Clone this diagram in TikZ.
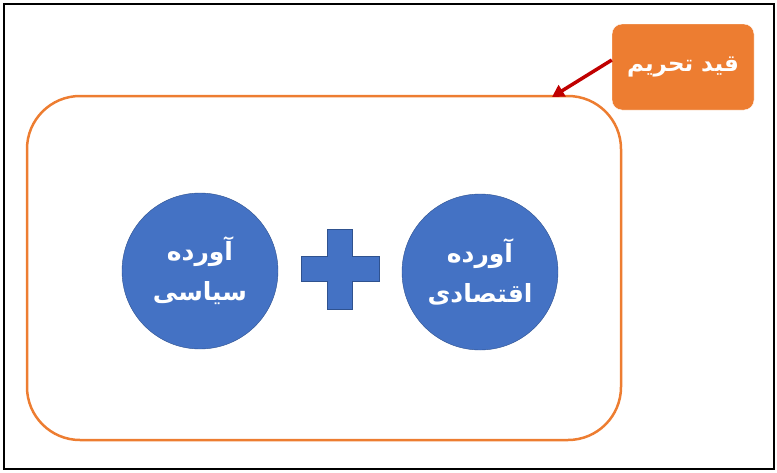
\documentclass[tikz,border=0pt]{standalone}
\usepackage{fontspec}
\newfontfamily\arabicfont[Script=Arabic]{DejaVu Sans}
\TeXXeTstate=1
\usetikzlibrary{arrows.meta}
\definecolor{offblue}{HTML}{4472C4}
\definecolor{offblueline}{HTML}{2F528F}
\definecolor{offorange}{HTML}{ED7D31}
\definecolor{darkred}{HTML}{C00000}
\begin{document}
\begin{tikzpicture}[x=1pt,y=-1pt,
  bubble/.style={circle,fill=offblue,draw=offblueline,thin,minimum size=156pt,inner sep=0pt,text=white,align=center,font=\arabicfont\bfseries\fontsize{25}{40}\selectfont},
  tag/.style={rectangle,rounded corners=10pt,fill=offorange,draw=white,minimum width=142pt,minimum height=86pt,text=white,font=\arabicfont\bfseries\fontsize{23}{26}\selectfont}]
\useasboundingbox (0,0) rectangle (777,472);

% frame
\draw [line width=2pt] (4,4) rectangle (774,469);
\draw [offorange,line width=2.5pt,rounded corners=53pt] (27,96) rectangle (621,440);

\node[bubble] (pol) at (200,271) {\beginR آورده\endR\\\beginR سیاسی\endR};
\node[bubble] (eco) at (480,272) {\beginR آورده\endR\\\beginR اقتصادی\endR};

%plus
\draw [offblueline,thin,fill=offblue] (327,229) -- (352,229) -- (352,256) -- (379,256) -- (379,281) -- (352,281) -- (352,309) -- (327,309) -- (327,281) -- (301,281) -- (301,256) -- (327,256) -- cycle;

\node[tag] (cons) at (683,67) {\beginR قید تحریم\endR};
\coordinate (tip) at (552,97);
\draw [darkred,line width=3.5pt,-{Triangle[length=12pt,width=13pt]}] (cons.west |- 0,60) -- (tip);
\end{tikzpicture}
\end{document}
